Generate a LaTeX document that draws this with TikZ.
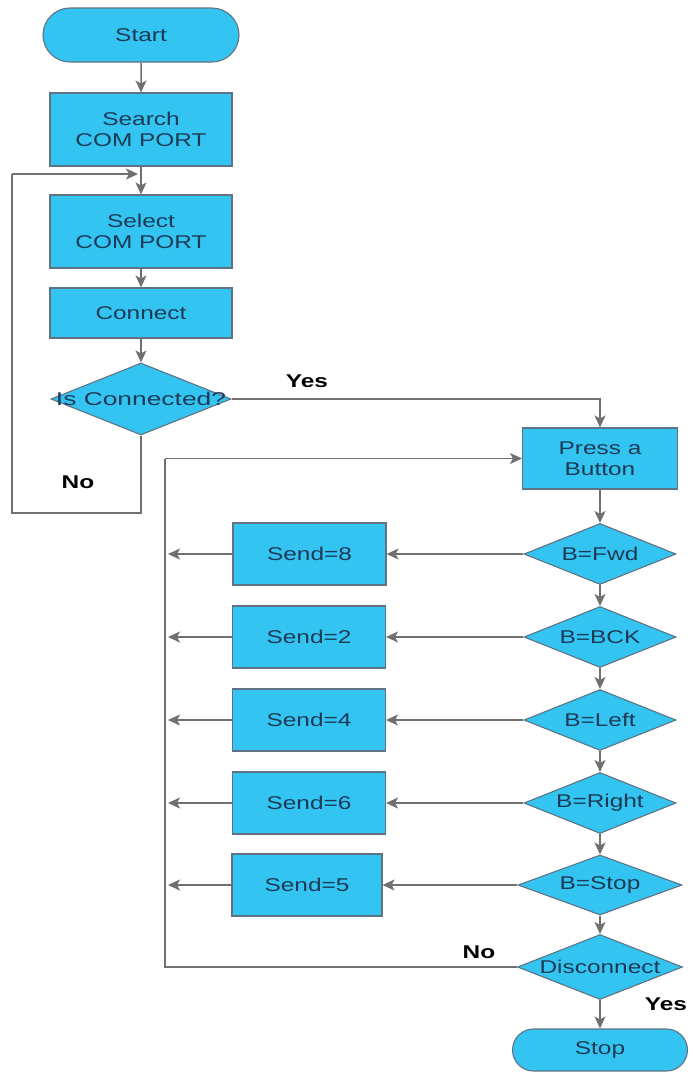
\documentclass[tikz,border=0pt]{standalone}
\usepackage{fontspec}
\usetikzlibrary{shapes.geometric,shapes.misc,arrows.meta}
\newfontfamily\wide[FakeStretch=1.32]{Liberation Sans}
\definecolor{boxfill}{HTML}{33C4F2}
\definecolor{boxline}{HTML}{5F7382}
\definecolor{txtc}{HTML}{1C3A55}
\definecolor{wire}{HTML}{707070}
\tikzset{
  flowfont/.style={font=\wide\fontsize{18.5}{21}\selectfont},
  procbox/.style={rectangle, draw=boxline, fill=boxfill, line width=1.1pt,
    text=txtc, flowfont, align=center, inner sep=0pt},
  termbox/.style={rounded rectangle, draw=boxline, fill=boxfill, line width=1.1pt,
    text=txtc, flowfont, inner sep=0pt},
  decbox/.style={diamond, draw=boxline, fill=boxfill, line width=1.1pt,
    inner sep=0pt, aspect=2.5},
  dectext/.style={text=txtc, flowfont, inner sep=0pt},
  answer/.style={text=black, font=\wide\bfseries\fontsize{18.5}{21}\selectfont},
  wireline/.style={draw=wire, line width=1.5pt},
  arr/.style={wireline, -{Stealth[length=12pt,width=11pt,inset=3pt]}}
}
\begin{document}
\begin{tikzpicture}[x=1pt,y=-1pt]
\useasboundingbox (0,0) rectangle (693,1072);

% main column: set up the serial connection
\node[termbox, minimum width=196pt, minimum height=54pt] (start) at (141,35) {Start};
\node[procbox, minimum width=182pt, minimum height=73pt] (search) at (141,129.5) {Search\\COM PORT};
\node[procbox, minimum width=182pt, minimum height=73pt] (select) at (141,231.5) {Select\\COM PORT};
\node[procbox, minimum width=182pt, minimum height=50pt] (connect) at (141,313) {Connect};
\node[decbox, minimum width=180pt, minimum height=72pt] (isconn) at (141,399) {};
\node[dectext] (isconnt) at (isconn.center) {\scalebox{1.08}[1]{Is Connected?}};

% right column: button handling
\node[procbox, minimum width=155pt, minimum height=61pt] (press) at (600,458.5) {Press a\\Button};
\node[decbox, minimum width=152pt, minimum height=61pt] (fwd) at (600,554) {};
\node[dectext] at (fwd.center) {B=Fwd};
\node[decbox, minimum width=152pt, minimum height=61pt] (bck) at (600,637) {};
\node[dectext] at (bck.center) {B=BCK};
\node[decbox, minimum width=152pt, minimum height=61pt] (lft) at (600,720) {};
\node[dectext] at (lft.center) {B=Left};
\node[decbox, minimum width=152pt, minimum height=61pt] (rgt) at (600,803) {};
\node[dectext] at (rgt.center) {B=Right};
\node[decbox, minimum width=164pt, minimum height=60pt] (bstop) at (600,885) {};
\node[dectext] at (bstop.center) {B=Stop};
\node[decbox, minimum width=165pt, minimum height=65pt] (disc) at (600,967) {};
\node[dectext] at (disc.center) {Disconnect};
\node[termbox, minimum width=175pt, minimum height=42pt] (stop) at (600,1050) {Stop};

% send commands
\node[procbox, minimum width=153pt, minimum height=62pt] (s8) at (309.5,554) {Send=8};
\node[procbox, minimum width=153pt, minimum height=62pt] (s2) at (309,637) {Send=2};
\node[procbox, minimum width=153pt, minimum height=62pt] (s4) at (309,720) {Send=4};
\node[procbox, minimum width=153pt, minimum height=62pt] (s6) at (309,803) {Send=6};
\node[procbox, minimum width=150pt, minimum height=62pt] (s5) at (307,885) {Send=5};

% answer labels
\node[answer] (yes1) at (307,381) {Yes};
\node[answer] (no1) at (78,482) {No};
\node[answer] (no2) at (479,952) {No};
\node[answer] (yes2) at (666,1004) {Yes};

% helper points for the loops
\coordinate (loopin) at (141,174);
\coordinate (nobot) at (141,513);
\coordinate (noleft) at (12,513);
\coordinate (nolefttop) at (12,174);
\coordinate (busx) at (165,458.5);
\coordinate (busbot) at (165,967);
\coordinate (t8) at (168,554);
\coordinate (t2) at (168,637);
\coordinate (t4) at (168,720);
\coordinate (t6) at (168,803);
\coordinate (t5) at (168,885);

% connectors
\draw[arr] (start) -- (search);
\draw[arr] (search) -- (select);
\draw[arr] (select) -- (connect);
\draw[arr] (connect) -- (isconn);
\draw[wireline] (isconn.south) -- (nobot) -- (noleft) -- (nolefttop);
\draw[arr] (nolefttop) -- ([xshift=-3pt]loopin);
\draw[arr] (isconn.east) -| (press.north);
\draw[arr] (press) -- (fwd);
\draw[arr] (fwd) -- (bck);
\draw[arr] (bck) -- (lft);
\draw[arr] (lft) -- (rgt);
\draw[arr] (rgt) -- (bstop);
\draw[arr] (bstop) -- (disc);
\draw[arr] (disc) -- (stop);

\draw[arr] (fwd.west) -- (s8.east);
\draw[arr] (bck.west) -- (s2.east);
\draw[arr] (lft.west) -- (s4.east);
\draw[arr] (rgt.west) -- (s6.east);
\draw[arr] (bstop.west) -- (s5.east);
\draw[arr] (s8.west) -- (t8);
\draw[arr] (s2.west) -- (t2);
\draw[arr] (s4.west) -- (t4);
\draw[arr] (s6.west) -- (t6);
\draw[arr] (s5.west) -- (t5);

\draw[wireline] (disc.west) -- (busbot) -- (busx);
\draw[arr] (busx) -- (press.west);
\end{tikzpicture}
\end{document}
